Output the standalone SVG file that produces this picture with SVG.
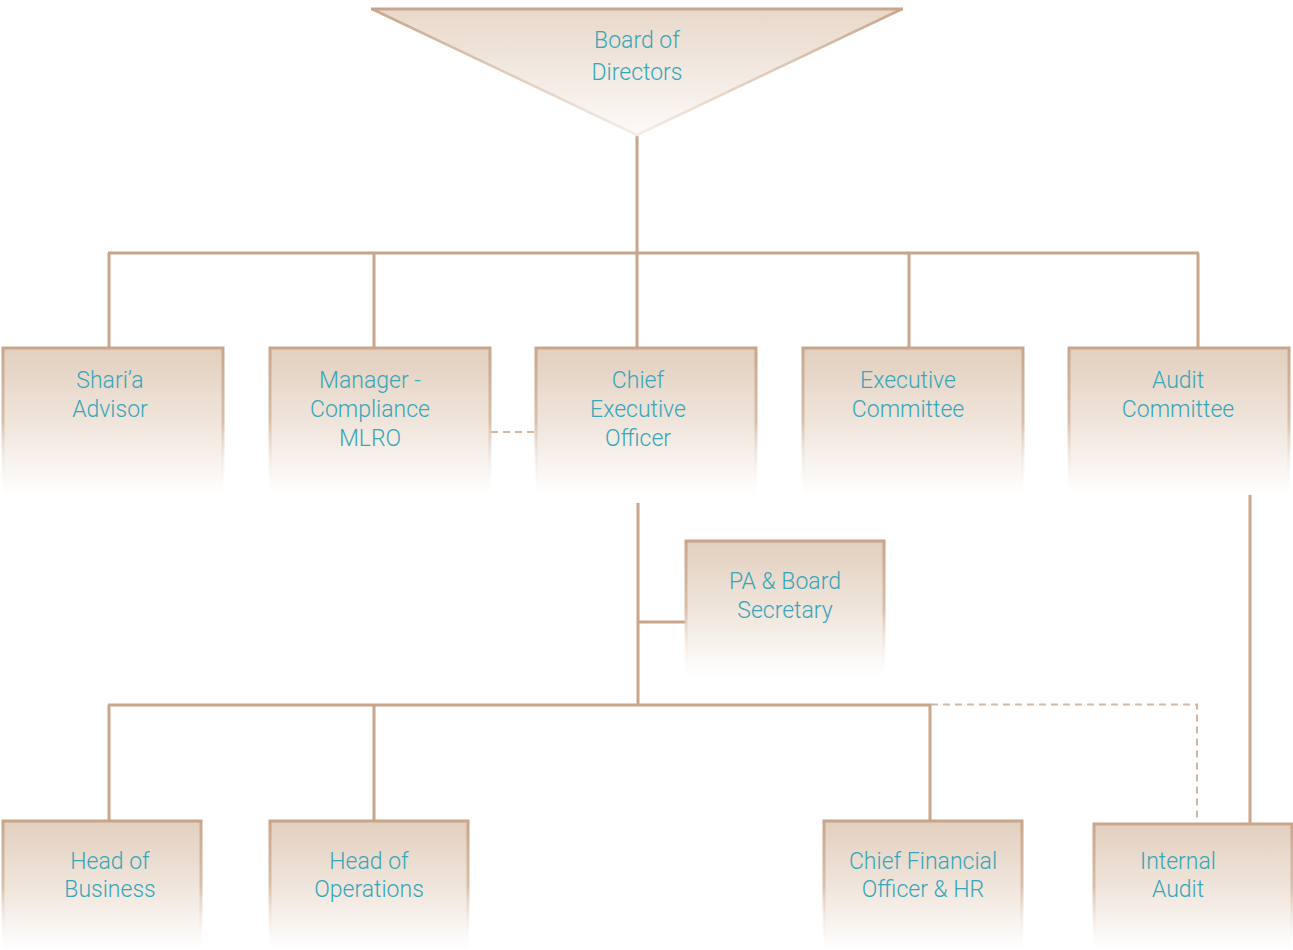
<svg xmlns="http://www.w3.org/2000/svg" width="1293" height="950" viewBox="0 0 1293 950">
<defs>
<linearGradient id="bf" x1="0" y1="0" x2="0" y2="1">
<stop offset="0" stop-color="#e2cfbe"/>
<stop offset="0.55" stop-color="#f1e7de"/>
<stop offset="1" stop-color="#ffffff"/>
</linearGradient>
<linearGradient id="bs" x1="0" y1="0" x2="0" y2="1">
<stop offset="0" stop-color="#c9a68b"/>
<stop offset="0.5" stop-color="#d9bfab"/>
<stop offset="1" stop-color="#ffffff" stop-opacity="0"/>
</linearGradient>
<linearGradient id="tf" x1="0" y1="0" x2="0" y2="1">
<stop offset="0" stop-color="#e8d8ca"/>
<stop offset="1" stop-color="#fcfaf8"/>
</linearGradient>
<linearGradient id="ts" x1="0" y1="0" x2="0" y2="1">
<stop offset="0" stop-color="#c9a68b"/>
<stop offset="1" stop-color="#f5ede6"/>
</linearGradient>
<style>
.box{fill:url(#bf);}
.edge{fill:none;stroke:url(#bs);stroke-width:3;}
.t{font-family:Roboto,"Liberation Sans",sans-serif;font-weight:300;font-size:23px;fill:#36a6ba;text-anchor:middle;}
.ln{stroke:#c9a68b;stroke-width:3;fill:none;}
.dl{stroke:#d4b7a2;stroke-width:2;stroke-dasharray:7 5;fill:none;}
</style>
</defs>

<g id="connectors">
<line class="ln" x1="637" y1="133" x2="637" y2="253"/>
<line class="ln" x1="108" y1="253" x2="1199" y2="253"/>
<line class="ln" x1="109" y1="253" x2="109" y2="348"/>
<line class="ln" x1="374" y1="253" x2="374" y2="348"/>
<line class="ln" x1="637" y1="253" x2="637" y2="348"/>
<line class="ln" x1="909" y1="253" x2="909" y2="348"/>
<line class="ln" x1="1198" y1="253" x2="1198" y2="348"/>
<line class="dl" x1="491" y1="432" x2="540" y2="432"/>
<line class="ln" x1="638" y1="503" x2="638" y2="706"/>
<line class="ln" x1="638" y1="622" x2="686" y2="622"/>
<line class="ln" x1="108" y1="705" x2="931" y2="705"/>
<line class="ln" x1="109" y1="705" x2="109" y2="821"/>
<line class="ln" x1="374" y1="705" x2="374" y2="821"/>
<line class="ln" x1="930" y1="705" x2="930" y2="821"/>
<polyline class="dl" points="931,704.5 1197,704.5 1197,820"/>
<line class="ln" x1="1250" y1="494" x2="1250" y2="824"/>
</g>

<g id="board">
<polygon points="372,9 902,9 637,135" fill="url(#tf)"/>
<polyline points="372,9 637,135 902,9" fill="none" stroke="url(#ts)" stroke-width="2.5"/>
<line x1="371" y1="9" x2="903" y2="9" stroke="#c9a68b" stroke-width="3"/>
<text class="t" x="637" y="48">Board of</text>
<text class="t" x="637" y="80">Directors</text>
</g>

<g id="sharia">
<rect class="box" x="3" y="348" width="220" height="147"/>
<path class="edge" d="M3,495 V348 H223 V495"/>
<text class="t" x="110" y="388">Shari’a</text>
<text class="t" x="110" y="417">Advisor</text>
</g>

<g id="manager">
<rect class="box" x="270" y="348" width="220" height="147"/>
<path class="edge" d="M270,495 V348 H490 V495"/>
<text class="t" x="370" y="388">Manager -</text>
<text class="t" x="370" y="417">Compliance</text>
<text class="t" x="370" y="446">MLRO</text>
</g>

<g id="ceo">
<rect class="box" x="536" y="348" width="220" height="147"/>
<path class="edge" d="M536,495 V348 H756 V495"/>
<text class="t" x="638" y="388">Chief</text>
<text class="t" x="638" y="417">Executive</text>
<text class="t" x="638" y="446">Officer</text>
</g>

<g id="exec">
<rect class="box" x="803" y="348" width="220" height="147"/>
<path class="edge" d="M803,495 V348 H1023 V495"/>
<text class="t" x="908" y="388">Executive</text>
<text class="t" x="908" y="417">Committee</text>
</g>

<g id="auditc">
<rect class="box" x="1069" y="348" width="220" height="147"/>
<path class="edge" d="M1069,495 V348 H1289 V495"/>
<text class="t" x="1178" y="388">Audit</text>
<text class="t" x="1178" y="417">Committee</text>
</g>

<g id="pa">
<rect class="box" x="686" y="541" width="198" height="136"/>
<path class="edge" d="M686,677 V541 H884 V677"/>
<text class="t" x="785" y="589">PA &amp; Board</text>
<text class="t" x="785" y="618">Secretary</text>
</g>

<g id="business">
<rect class="box" x="3" y="821" width="198" height="129"/>
<path class="edge" d="M3,950 V821 H201 V950"/>
<text class="t" x="110" y="869">Head of</text>
<text class="t" x="110" y="897">Business</text>
</g>

<g id="operations">
<rect class="box" x="270" y="821" width="198" height="129"/>
<path class="edge" d="M270,950 V821 H468 V950"/>
<text class="t" x="369" y="869">Head of</text>
<text class="t" x="369" y="897">Operations</text>
</g>

<g id="cfo">
<rect class="box" x="824" y="821" width="198" height="129"/>
<path class="edge" d="M824,950 V821 H1022 V950"/>
<text class="t" x="923" y="869">Chief Financial</text>
<text class="t" x="923" y="897">Officer &amp; HR</text>
</g>

<g id="internal">
<rect class="box" x="1094" y="824" width="198" height="126"/>
<path class="edge" d="M1094,950 V824 H1292 V950"/>
<text class="t" x="1178" y="869">Internal</text>
<text class="t" x="1178" y="897">Audit</text>
</g>
</svg>
